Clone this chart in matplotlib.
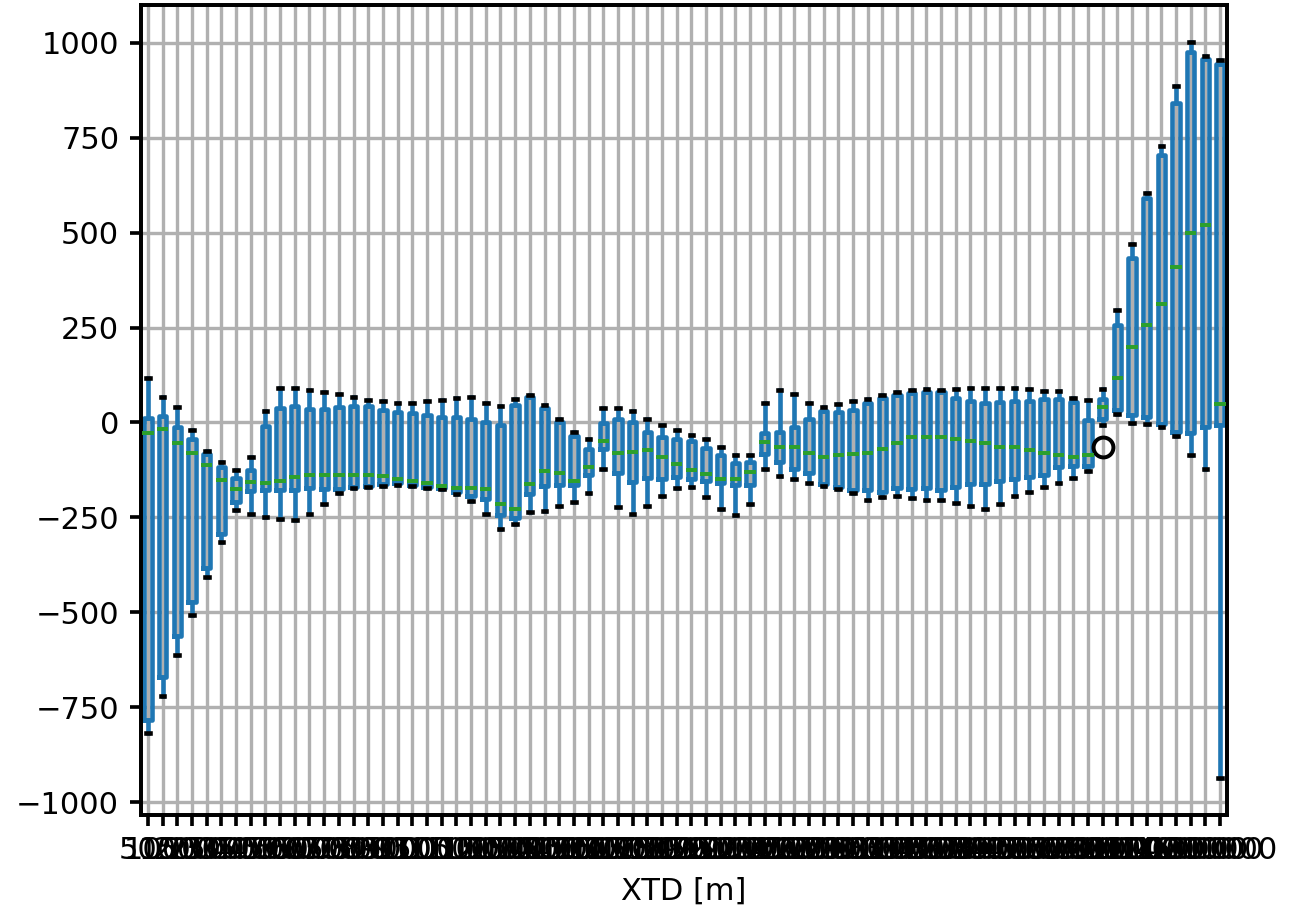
import matplotlib
matplotlib.use("Agg")
import matplotlib.pyplot as plt

# XTD bins (column labels)
xtd = [500, 1000, 1500, 2000, 2500, 3000, 3500, 4000, 4500, 5000,
       5500, 6000, 6500, 7000, 7500, 8000, 8500, 9000, 9500, 10000,
       10500, 11000, 11500, 12000, 12500, 13000, 13500, 14000, 14500, 15000,
       15500, 16000, 16500, 17000, 17500, 18000, 18500, 19000, 19500, 20000,
       21000, 22000, 23000, 24000, 25000, 26000, 27000, 28000, 29000, 30000,
       31000, 32000, 33000, 34000, 35000, 36000, 37000, 38000, 39000, 40000,
       45000, 50000, 55000, 60000, 65000, 70000,
       80000, 90000, 100000, 120000, 140000, 160000, 180000, 200000]

# per-bin box statistics
whislo = [-819, -720, -612, -507, -408, -315, -231, -242, -250, -255,
          -257, -242, -216, -187, -173, -171, -167, -164, -167, -172,
          -176, -188, -206, -240, -281, -267, -237, -234, -220, -209,
          -185, -122, -223, -242, -219, -193, -172, -170, -197, -229,
          -244, -216, -123, -141, -149, -159, -167, -175, -185, -203,
          -197, -193, -199, -203, -203, -211, -219, -229, -214, -195,
          -183, -170, -159, -146, -127, -7, 22, -2, -5, -13,
          -36, -86, -122, -936]
q1 = [-784, -670, -562, -474, -384, -294, -209, -180, -179, -179,
      -179, -173, -176, -176, -169, -168, -162, -160, -164, -169,
      -173, -182, -195, -202, -245, -252, -189, -167, -166, -164,
      -138, -71, -134, -158, -147, -150, -143, -149, -154, -160,
      -166, -166, -84, -103, -123, -134, -163, -171, -178, -179,
      -184, -173, -175, -173, -177, -171, -162, -162, -153, -150,
      -143, -138, -118, -115, -116, 10, 33, 20, 15, -4,
      -24, -29, -11, -7]
med = [-28, -18, -53, -81, -113, -151, -175, -157, -160, -153,
       -143, -138, -138, -138, -138, -138, -140, -149, -154, -160,
       -167, -172, -172, -175, -214, -227, -162, -128, -133, -153,
       -118, -50, -80, -78, -73, -90, -110, -125, -137, -150,
       -149, -130, -51, -66, -66, -81, -90, -87, -82, -80,
       -70, -53, -38, -38, -38, -43, -48, -53, -66, -66,
       -72, -80, -85, -90, -85, 41, 116, 199, 256, 313,
       410, 499, 519, 49]
q3 = [11, 17, -11, -43, -82, -118, -147, -125, -9, 37,
      42, 35, 36, 40, 43, 42, 33, 28, 24, 20,
      14, 14, 8, 0, -7, 45, 68, 39, 1, -36,
      -71, -2, 10, 0, -24, -39, -44, -49, -68, -87,
      -106, -103, -27, -24, -11, 8, 30, 27, 33, 52,
      65, 71, 77, 81, 79, 65, 57, 51, 53, 57,
      56, 62, 62, 53, 7, 63, 257, 432, 591, 705,
      841, 977, 957, 944]
whishi = [118, 66, 40, -20, -76, -105, -125, -92, 30, 90,
          90, 86, 80, 75, 66, 59, 56, 52, 52, 56,
          58, 64, 66, 52, 43, 63, 72, 46, 9, -24,
          -43, 37, 37, 30, 9, -8, -20, -33, -43, -64,
          -85, -85, 51, 86, 74, 51, 40, 48, 56, 63,
          72, 79, 86, 89, 86, 89, 92, 92, 92, 92,
          88, 84, 84, 65, 58, 89, 296, 470, 605, 729,
          885, 1002, 964, 955]
# outliers: bin index -> values
fliers = {65: [-66]}

stats = []
for i, label in enumerate(xtd):
    stats.append(dict(label=str(label), whislo=whislo[i], q1=q1[i], med=med[i],
                      q3=q3[i], whishi=whishi[i], fliers=fliers.get(i, [])))

plt.rcParams["axes.linewidth"] = 1.3
plt.rcParams["grid.linewidth"] = 1.1
plt.rcParams["xtick.major.width"] = 1.2
plt.rcParams["ytick.major.width"] = 1.2

fig = plt.figure(figsize=(1291 / 220, 909 / 220), dpi=220)
ax = fig.add_axes([0.1089, 0.1039, 0.8419, 0.8903])
lw = 1.5
ax.bxp(stats, positions=range(1, len(xtd) + 1),
       boxprops=dict(color="C0", linewidth=lw),
       whiskerprops=dict(color="C0", linewidth=lw),
       medianprops=dict(color="C2", linewidth=1.3, zorder=3,
                        solid_capstyle="projecting"),
       capprops=dict(color="k", linewidth=lw, zorder=3,
                     solid_capstyle="projecting"),
       flierprops=dict(marker="o", markerfacecolor="none",
                       markeredgecolor="k", markersize=6.5, markeredgewidth=1.3))
ax.grid(True)
ax.set_xlabel("XTD [m]")

fig.savefig("out.png", dpi=220)
